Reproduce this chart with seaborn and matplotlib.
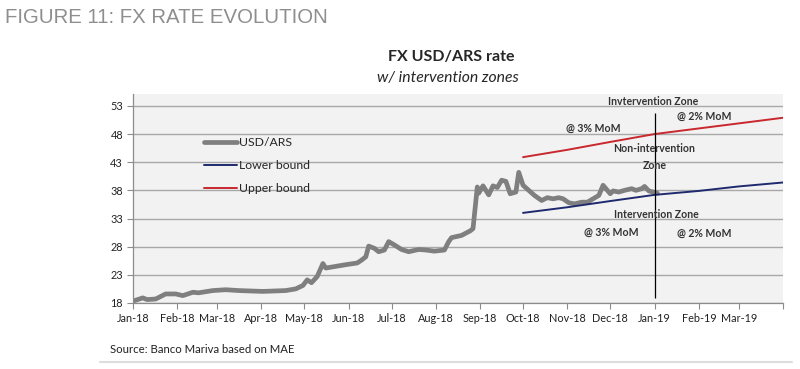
import pandas as pd
import numpy as np
import seaborn as sns
import matplotlib
matplotlib.use("Agg")
import matplotlib.pyplot as plt
from matplotlib.lines import Line2D

# USD/ARS daily-ish readings
fx_dates = ["2018-01-02", "2018-01-08", "2018-01-11", "2018-01-17", "2018-01-24", "2018-01-31",
            "2018-02-05", "2018-02-12", "2018-02-16", "2018-02-26", "2018-03-07", "2018-03-16",
            "2018-04-02", "2018-04-18", "2018-04-25", "2018-04-30", "2018-05-03", "2018-05-06",
            "2018-05-10", "2018-05-14", "2018-05-16", "2018-05-23", "2018-05-30", "2018-06-07",
            "2018-06-10", "2018-06-13", "2018-06-15", "2018-06-19", "2018-06-22", "2018-06-26",
            "2018-06-29", "2018-07-03", "2018-07-08", "2018-07-13", "2018-07-20", "2018-07-25",
            "2018-07-31", "2018-08-07", "2018-08-10", "2018-08-12", "2018-08-19", "2018-08-25",
            "2018-08-27", "2018-08-30", "2018-08-31", "2018-09-03", "2018-09-07", "2018-09-10",
            "2018-09-13", "2018-09-16", "2018-09-19", "2018-09-22", "2018-09-26", "2018-09-28",
            "2018-10-01", "2018-10-05", "2018-10-09", "2018-10-14", "2018-10-18", "2018-10-22",
            "2018-10-26", "2018-10-29", "2018-11-02", "2018-11-06", "2018-11-11", "2018-11-15",
            "2018-11-19", "2018-11-23", "2018-11-26", "2018-11-29", "2018-12-01", "2018-12-03",
            "2018-12-07", "2018-12-11", "2018-12-16", "2018-12-19", "2018-12-23", "2018-12-25",
            "2018-12-28", "2018-12-31", "2019-01-03"]
fx_values = [18.4, 18.9, 18.6, 18.7, 19.6, 19.6,
             19.3, 19.9, 19.8, 20.2, 20.35, 20.2,
             20.05, 20.2, 20.5, 21.1, 22.1, 21.6,
             22.7, 25.0, 24.2, 24.5, 24.8, 25.1,
             25.6, 26.2, 28.1, 27.7, 27.1, 27.4,
             28.9, 28.3, 27.5, 27.1, 27.5, 27.4,
             27.2, 27.4, 28.9, 29.6, 30.0, 30.8,
             31.2, 38.6, 37.5, 38.8, 37.2, 38.8,
             38.5, 39.8, 39.6, 37.4, 37.7, 41.2,
             38.9, 38.0, 37.1, 36.2, 36.7, 36.5,
             36.7, 36.5, 35.8, 35.6, 35.9, 35.9,
             36.5, 37.1, 38.9, 38.0, 37.4, 37.9,
             37.7, 38.0, 38.3, 38.0, 38.3, 38.7,
             37.9, 37.7, 37.5]

# band limits (3% MoM to Dec-18, 2% MoM afterwards)
bound_dates = ["2018-10-01", "2018-11-01", "2018-12-01", "2019-01-01",
               "2019-02-01", "2019-03-01", "2019-04-01"]
lower_values = [34.0, 35.0, 36.1, 37.2, 37.9, 38.7, 39.4]
upper_values = [43.9, 45.2, 46.6, 48.0, 49.0, 49.9, 50.9]

y_ticks = [18, 23, 28, 33, 38, 43, 48, 53]
month_ticks = pd.date_range("2018-01-01", "2019-04-01", freq="MS")
month_labels = [d.strftime("%b-%y") for d in month_ticks[:-1]] + [""]

divider_date = "2019-01-01"
zone_notes = [("Invtervention Zone", "2018-12-31", 53.7),
              ("@ 2% MoM", "2019-02-05", 51.1),
              ("@ 3% MoM", "2018-11-19", 49.0),
              ("Non-intervention\nZone", "2019-01-01", 43.9),
              ("Intervention Zone", "2019-01-02", 33.8),
              ("@ 3% MoM", "2018-12-02", 30.5),
              ("@ 2% MoM", "2019-02-05", 30.3)]

sns.set_style("white", {"axes.facecolor": "#f2f2f2"})
plt.rcParams["font.family"] = ["Lato", "DejaVu Sans"]

fx = pd.DataFrame({"date": pd.to_datetime(fx_dates), "rate": fx_values})
bands = pd.DataFrame({"date": pd.to_datetime(bound_dates),
                      "lower": lower_values, "upper": upper_values})

fig = plt.figure(figsize=(8, 3.69), dpi=100)
ax = fig.add_axes([0.166, 0.179, 0.813, 0.566])

ax.grid(axis="y", color="#a8a8a8", lw=1)
ax.set_axisbelow(True)

sns.lineplot(data=fx, x="date", y="rate", color="#7f7f7f", lw=3.4, ax=ax, legend=False)
sns.lineplot(data=bands, x="date", y="lower", color="#1f2a6e", lw=1.4, ax=ax, legend=False)
sns.lineplot(data=bands, x="date", y="upper", color="#c8282e", lw=1.4, ax=ax, legend=False)

ax.vlines(pd.Timestamp(divider_date), 18.8, 51.8, color="black", lw=0.9)

for txt, d, v in zone_notes:
    ax.text(pd.Timestamp(d), v, txt, ha="center", va="center", fontsize=7.6,
            fontweight="bold", color="#333333", linespacing=1.6)

ax.set_xlim(month_ticks[0], month_ticks[-1])
ax.set_ylim(18, 55.1)
ax.set_yticks(y_ticks)
ax.set_xticks(month_ticks)
ax.set_xticklabels(month_labels)
ax.set_xlabel("")
ax.set_ylabel("")

for s in ["top", "right"]:
    ax.spines[s].set_visible(False)
for s in ["left", "bottom"]:
    ax.spines[s].set_color("#8c8c8c")
    ax.spines[s].set_linewidth(0.9)
ax.tick_params(axis="both", bottom=True, left=True, direction="out", length=4,
               width=0.8, color="#8c8c8c", labelsize=7.8, labelcolor="#222222", pad=3)

handles = [Line2D([], [], color="#7f7f7f", lw=3.4),
           Line2D([], [], color="#1f2a6e", lw=1.4),
           Line2D([], [], color="#c8282e", lw=1.4)]
ax.legend(handles, ["USD/ARS", "Lower bound", "Upper bound"], loc="upper left",
          bbox_to_anchor=(0.11, 0.795), frameon=False, fontsize=8.8, handlelength=2.7,
          handletextpad=0.1, labelspacing=1.0, borderpad=0, borderaxespad=0)

fig.text(0.006, 0.952, "FIGURE 11: FX RATE EVOLUTION", fontsize=14.7, color="#8e8e8e",
         family=["Liberation Sans", "DejaVu Sans"], va="center")
fig.text(0.564, 0.845, "FX USD/ARS rate", fontsize=11.5, fontweight="bold", ha="center", va="center")
fig.text(0.56, 0.788, "w/ intervention zones", fontsize=11.3, style="italic", ha="center", va="center")
fig.text(0.138, 0.054, "Source: Banco Mariva based on MAE", fontsize=8.2, color="#222222", va="center")
fig.add_artist(Line2D([0.125, 0.99], [0.018, 0.018], color="#dddddd", lw=1.5))

fig.savefig("out.png", dpi=100)
